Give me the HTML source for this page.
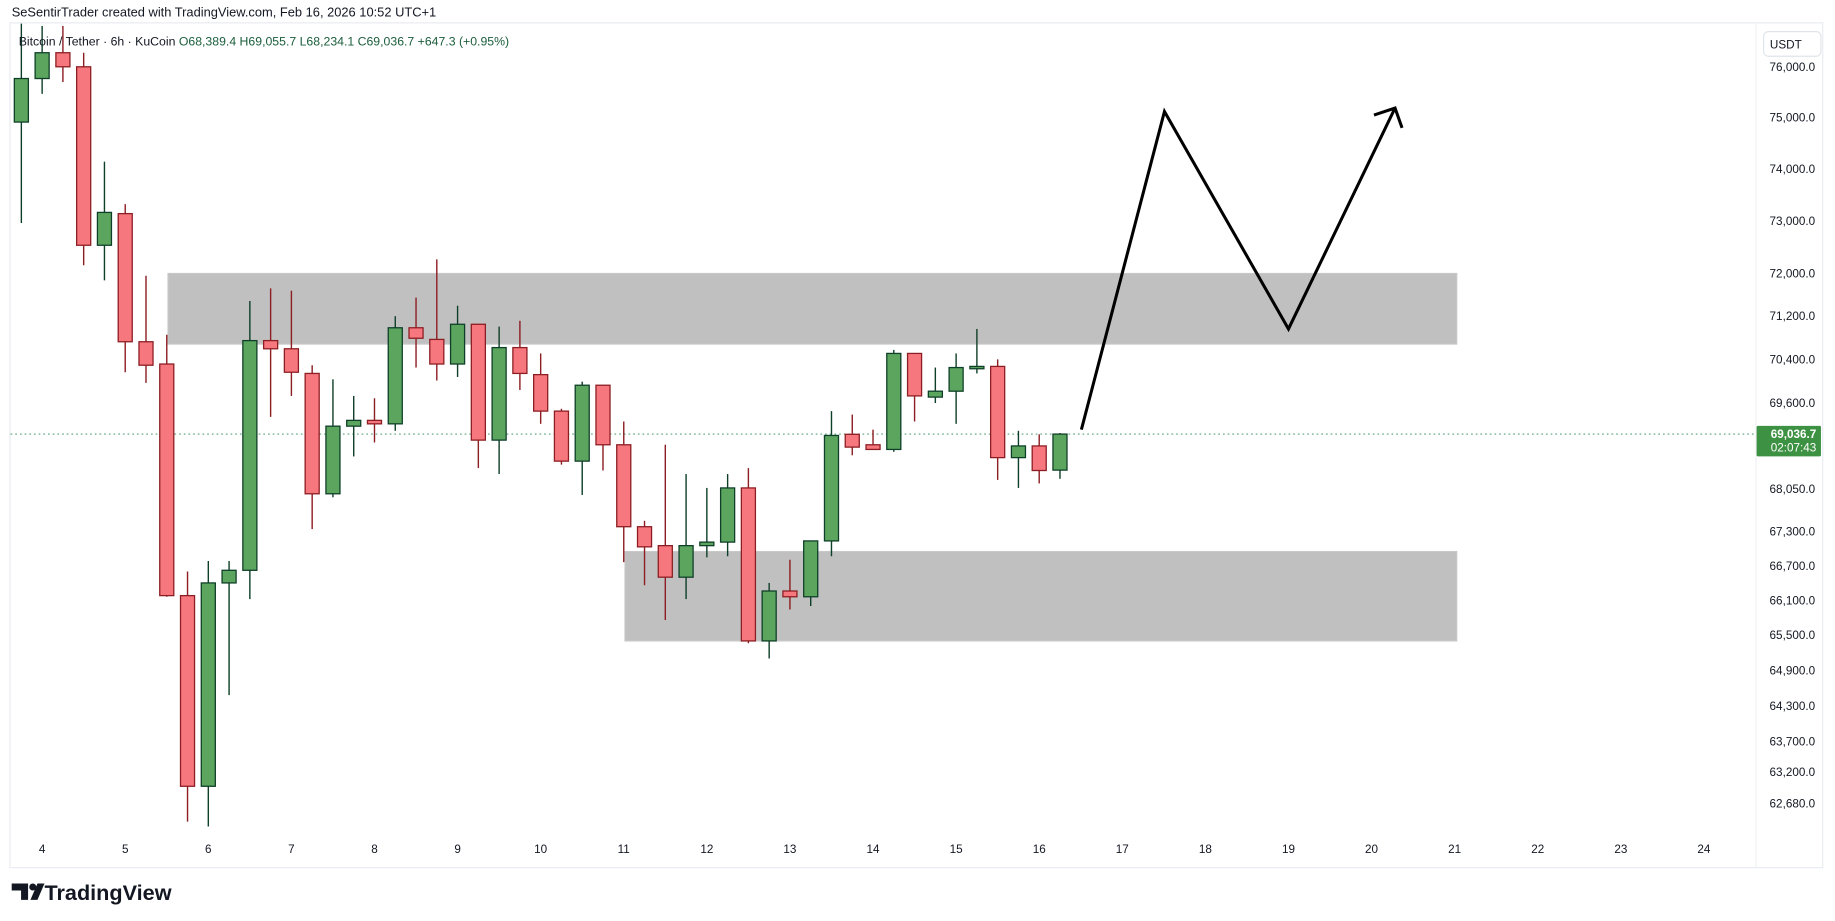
<!DOCTYPE html>
<html><head><meta charset="utf-8"><style>
html,body{margin:0;padding:0;background:#fff;}
svg{display:block;font-family:"Liberation Sans",sans-serif;}
</style></head><body>
<svg id="chart" width="1835" height="921" viewBox="0 0 1568 786" preserveAspectRatio="none" xmlns="http://www.w3.org/2000/svg">
<rect x="0" y="0" width="1568" height="786" fill="#ffffff"/>
<text x="10" y="14" font-size="11" fill="#131722">SeSentirTrader created with TradingView.com, Feb 16, 2026 10:52 UTC+1</text>
<rect x="8.5" y="19.5" width="1549" height="721" fill="none" stroke="#e9ebf0"/>
<line x1="1500.5" y1="20" x2="1500.5" y2="740" stroke="#f0f1f4"/>
<g id="zones"></g>
<g id="priceline"></g>
<g id="candles"></g>
<g id="drawing"></g>
<g id="yaxis"></g>
<g id="xaxis"></g>
<text x="16" y="39" font-size="10.5" fill="#131722">Bitcoin / Tether · 6h · KuCoin <tspan fill="#1b5e3b">O68,389.4  H69,055.7  L68,234.1  C69,036.7  +647.3 (+0.95%)</tspan></text>
<rect x="1507" y="27" width="49" height="21" rx="4" fill="#fff" stroke="#e0e3eb"/>
<text x="1526" y="41.5" font-size="10" fill="#131722" text-anchor="middle">USDT</text>
<g>
<path d="M10 754h14v14h-6v-8h-8z M26 768l6-14h6l-6 14z" fill="#131722"/>
<circle cx="28" cy="757" r="3" fill="#131722"/>
<text x="38" y="768" font-size="18.5" font-weight="bold" fill="#131722">TradingView</text>
</g>
</svg>
<script>
const categories = ["4","5","6","7","8","9","10","11","12","13","14","15","16","17","18","19","20","21","22","23","24"];
const priceTicks = [76000,75000,74000,73000,72000,71200,70400,69600,68050,67300,66700,66100,65500,64900,64300,63700,63200,62680];
const opens  = [74909,75767,76280,76000,72533,73136,70725,70314,66180,62960,66400,66620,70746,70595,70141,67967,69180,69285,69222,70984,70768,70314,71049,68928,70617,70119,69453,68550,69925,68844,67384,67051,66500,67051,67113,68071,65400,66260,66160,67134,69033,68844,68760,70509,69708,69816,70227,70270,68613,68823,68389];
const highs  = [76862,76816,76816,76280,74137,73318,71957,70854,66600,66783,66783,71482,71719,71676,70292,70033,69730,69687,71200,71546,72266,71395,71049,71006,71114,70509,69495,69990,69925,69264,67488,68844,68319,68071,68319,68424,66400,66804,67134,69453,69390,69117,70574,70509,70249,70509,70962,70400,69096,69033,69056];
const lows   = [72956,75464,75697,72155,71870,70163,69968,66160,62380,62300,64480,66120,69348,69730,67342,67904,68634,68886,69096,70249,70011,70076,68424,68319,69838,69222,68487,67946,68382,66762,66360,65760,66120,66845,66865,65360,65100,65940,66000,66865,68655,68760,68718,69264,69600,69222,70141,68214,68071,68151,68234];
const closes = [75767,76280,76000,72533,73159,70725,70292,66180,62960,66400,66620,70746,70595,70163,67967,69180,69285,69222,70984,70790,70314,71049,68928,70617,70141,69453,68550,69925,68844,67384,67030,66500,67051,67113,68071,65400,66260,66160,67134,69012,68802,68760,70509,69730,69816,70249,70270,68613,68823,68382,69037];
const lastPrice = 69036.7;
const zoneUpper = [6.06, 68.1, 72000, 70682];
const zoneLower = [28.06, 68.1, 66948, 65400];
const pathIdx = [50.03, 54.03, 60.0, 65.13];
const pathPrice = [69117, 75116, 70962, 75185];

const NS="http://www.w3.org/2000/svg";
function y(p){return 57-3262*Math.log(p/76000);}
function x(k){return 36+17.75*k;}
function mk(tag,attrs,parent){const e=document.createElementNS(NS,tag);for(const a in attrs)e.setAttribute(a,attrs[a]);parent.appendChild(e);return e;}
const G=id=>document.getElementById(id);

[zoneUpper,zoneLower].forEach((z,i)=>{
  const r=mk('rect',{x:x(z[0]),y:y(z[2]),width:x(z[1])-x(z[0]),height:y(z[3])-y(z[2]),fill:'rgba(150,150,150,0.6)',stroke:'#c8c8c8','stroke-width':1},G('zones'));
  
  
});

const pl=mk('line',{x1:9,x2:1500,y1:y(lastPrice),y2:y(lastPrice),stroke:'#2e8b57','stroke-dasharray':'1.5 2.5','stroke-width':0.8},G('priceline'));



for(let i=0;i<opens.length;i++){
  const k=i-1, cx=x(k), up=closes[i]>=opens[i];
  const col=up?'#0e3f28':'#8c1d22', fill=up?'#5ca55e':'#f7777f';
  const g=mk('g',{},G('candles'));
  
  
  mk('line',{x1:cx,x2:cx,y1:Math.max(20,y(highs[i])),y2:y(lows[i]),stroke:col,'stroke-width':1.2},g);
  const t=y(Math.max(opens[i],closes[i])), b=y(Math.min(opens[i],closes[i]));
  mk('rect',{x:cx-6,y:t,width:12,height:Math.max(1.5,b-t),fill:fill,stroke:col,'stroke-width':1.1},g);
}

const pts=pathIdx.map((k,i)=>x(k)+','+y(pathPrice[i])).join(' ');
const pth=mk('polyline',{points:pts,fill:'none',stroke:'#000','stroke-width':2.6,'stroke-linejoin':'miter'},G('drawing'));


const tx=x(pathIdx[3]), ty=y(pathPrice[3]);
const ah=mk('polyline',{points:(tx-18)+','+(ty+6)+' '+tx+','+ty+' '+(tx+6)+','+(ty+17),fill:'none',stroke:'#000','stroke-width':2.6},G('drawing'));



priceTicks.forEach(p=>{
  const t=mk('text',{x:1551,y:y(p)+3.5,'font-size':10,fill:'#131722','text-anchor':'end'},G('yaxis'));
  t.textContent=p.toLocaleString('en-US',{minimumFractionDigits:1,maximumFractionDigits:1});
  
  
});
const lb=mk('rect',{x:1501,y:y(lastPrice)-7,width:55,height:26,fill:'#3d9142',rx:1},G('yaxis'));


const l1=mk('text',{x:1552,y:y(lastPrice)+3.5,'font-size':10,'font-weight':'bold',fill:'#fff','text-anchor':'end'},G('yaxis'));
l1.textContent=lastPrice.toLocaleString('en-US',{minimumFractionDigits:1});


const l2=mk('text',{x:1552,y:y(lastPrice)+15,'font-size':10,fill:'#fff','text-anchor':'end'},G('yaxis'));
l2.textContent='02:07:43';



categories.forEach((c,i)=>{
  const t=mk('text',{x:x(i*4),y:728,'font-size':10,fill:'#131722','text-anchor':'middle'},G('xaxis'));
  t.textContent=c;
  
  
});
</script>
</body></html>
